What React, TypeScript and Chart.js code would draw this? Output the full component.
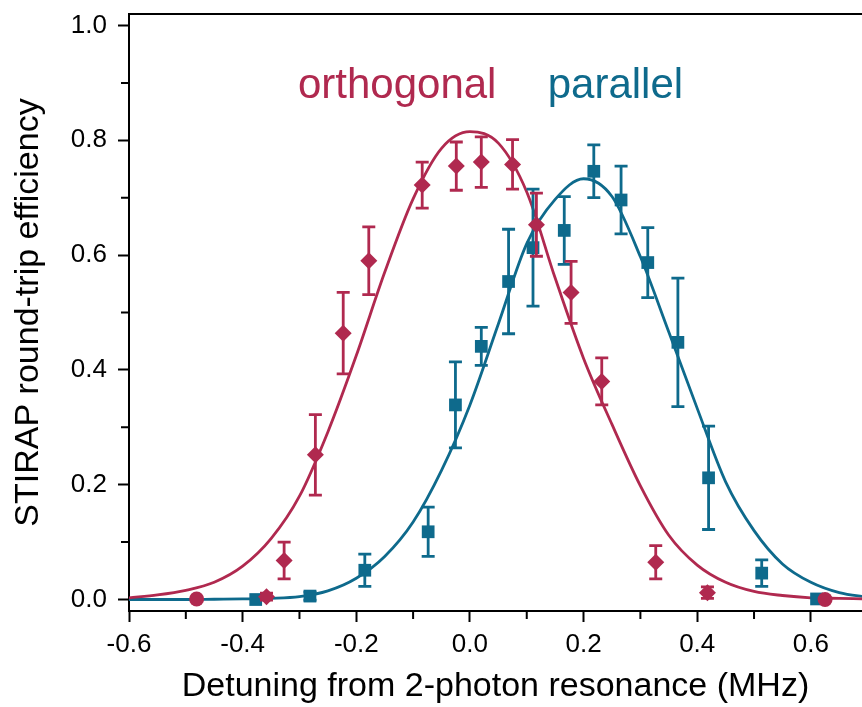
import React, { useEffect, useRef } from 'react';
import { Chart, registerables } from 'chart.js';

Chart.register(...registerables);

// ---- data ----
const orthoX = [-0.481, -0.358, -0.327, -0.272, -0.223, -0.178, -0.084, -0.024, 0.020, 0.075, 0.117, 0.178, 0.232, 0.327, 0.418, 0.625];
const orthoY = [0.001, 0.005, 0.068, 0.252, 0.464, 0.590, 0.722, 0.755, 0.762, 0.758, 0.653, 0.535, 0.380, 0.065, 0.012, 0.0];
const orthoErr = [0, 0.006, 0.032, 0.070, 0.071, 0.059, 0.040, 0.042, 0.044, 0.043, 0.055, 0.054, 0.041, 0.029, 0.010, 0];
const orthoStyle = ['circle', 'rectRot', 'rectRot', 'rectRot', 'rectRot', 'rectRot', 'rectRot', 'rectRot', 'rectRot', 'rectRot', 'rectRot', 'rectRot', 'rectRot', 'rectRot', 'rectRot', 'circle'];

const paraX = [-0.377, -0.2815, -0.185, -0.0735, -0.0255, 0.020, 0.068, 0.111, 0.166, 0.218, 0.266, 0.313, 0.366, 0.420, 0.5135, 0.610];
const paraY = [0.0, 0.006, 0.051, 0.118, 0.339, 0.441, 0.554, 0.613, 0.643, 0.746, 0.696, 0.587, 0.448, 0.212, 0.046, 0.001];
const paraErr = [0, 0.007, 0.028, 0.043, 0.075, 0.033, 0.091, 0.102, 0.059, 0.046, 0.059, 0.061, 0.112, 0.090, 0.023, 0];

const fitX = [-0.6, -0.55, -0.5, -0.45, -0.4, -0.35, -0.3, -0.25, -0.2, -0.15, -0.1, -0.05, 0.0, 0.05, 0.1, 0.15, 0.2, 0.25, 0.3, 0.35, 0.4, 0.45, 0.5, 0.55, 0.6, 0.65, 0.7];
const orthoFit = [0.003, 0.008, 0.016, 0.030, 0.058, 0.106, 0.180, 0.292, 0.425, 0.570, 0.698, 0.786, 0.815, 0.795, 0.710, 0.560, 0.420, 0.305, 0.198, 0.112, 0.060, 0.030, 0.014, 0.007, 0.003, 0.002, 0.001];
const paraFit = [0.0, 0.0, 0.0, 0.0005, 0.001, 0.002, 0.005, 0.015, 0.037, 0.075, 0.135, 0.225, 0.339, 0.480, 0.620, 0.697, 0.733, 0.702, 0.597, 0.466, 0.333, 0.205, 0.120, 0.062, 0.030, 0.012, 0.004];

const xMajorTicks = [-0.6, -0.4, -0.2, 0.0, 0.2, 0.4, 0.6];
const xMinorTicks = [-0.5, -0.3, -0.1, 0.1, 0.3, 0.5];
const yMajorTicks = [0.0, 0.2, 0.4, 0.6, 0.8, 1.0];
const yMinorTicks = [0.1, 0.3, 0.5, 0.7, 0.9];

const seriesLabels = ['orthogonal', 'parallel'];
const labelX = [-0.128, 0.256];
const labelY = [0.873, 0.873];

const xTitle = 'Detuning from 2-photon resonance (MHz)';
const yTitle = 'STIRAP round-trip efficiency';

const CRIMSON = '#B0294F';
const TEAL = '#0E6A8C';
const FONT = "'Liberation Sans', Arial, sans-serif";

const decorPlugin = {
  id: 'decor',
  beforeDatasetDraw(chart: any, args: any) {
    const ds = chart.data.datasets[args.index];
    const errs = ds.errors as number[] | undefined;
    if (!errs) return;
    const { ctx, scales } = chart;
    const xs = scales.x, ys = scales.y;
    ctx.save();
    ctx.strokeStyle = ds.errColor;
    ctx.lineWidth = 2.8;
    ctx.lineCap = 'butt';
    ds.data.forEach((p: any, i: number) => {
      const e = errs[i];
      if (!e) return;
      const px = xs.getPixelForValue(p.x);
      const y1 = ys.getPixelForValue(p.y + e);
      const y2 = ys.getPixelForValue(p.y - e);
      ctx.beginPath();
      ctx.moveTo(px, y1);
      ctx.lineTo(px, y2);
      ctx.moveTo(px - 6.5, y1);
      ctx.lineTo(px + 6.5, y1);
      ctx.moveTo(px - 6.5, y2);
      ctx.lineTo(px + 6.5, y2);
      ctx.stroke();
    });
    ctx.restore();
  },
  afterDraw(chart: any) {
    const { ctx, chartArea, scales } = chart;
    const xs = scales.x, ys = scales.y;
    ctx.save();
    ctx.strokeStyle = '#000';
    ctx.lineWidth = 2;
    // top frame line
    ctx.beginPath();
    ctx.moveTo(chartArea.left - 1, chartArea.top);
    ctx.lineTo(chartArea.right, chartArea.top);
    ctx.stroke();
    // minor ticks
    ctx.beginPath();
    xMinorTicks.forEach((v) => {
      const px = xs.getPixelForValue(v);
      ctx.moveTo(px, chartArea.bottom);
      ctx.lineTo(px, chartArea.bottom + 8);
    });
    yMinorTicks.forEach((v) => {
      const py = ys.getPixelForValue(v);
      ctx.moveTo(chartArea.left, py);
      ctx.lineTo(chartArea.left - 8, py);
    });
    ctx.stroke();
    // series labels
    ctx.font = `42px ${FONT}`;
    ctx.textAlign = 'center';
    ctx.textBaseline = 'alphabetic';
    const colors = [CRIMSON, TEAL];
    seriesLabels.forEach((t, i) => {
      ctx.fillStyle = colors[i];
      ctx.fillText(t, xs.getPixelForValue(labelX[i]), ys.getPixelForValue(labelY[i]));
    });
    ctx.restore();
  },
};

export default function App() {
  const ref = useRef<HTMLCanvasElement | null>(null);
  useEffect(() => {
    document.body.style.margin = '0';
    const canvas = ref.current;
    if (!canvas) return;
    const chart = new Chart(canvas, {
      type: 'scatter',
      data: {
        datasets: [
          {
            label: 'orthogonal',
            data: orthoX.map((x, i) => ({ x, y: orthoY[i] })),
            errors: orthoErr,
            errColor: CRIMSON,
            pointStyle: orthoStyle,
            pointRadius: orthoStyle.map((s) => (s === 'circle' ? 7.5 : 8.5)),
            backgroundColor: CRIMSON,
            borderColor: CRIMSON,
            borderWidth: 0,
            showLine: false,
            order: 0,
          } as any,
          {
            label: 'parallel',
            data: paraX.map((x, i) => ({ x, y: paraY[i] })),
            errors: paraErr,
            errColor: TEAL,
            pointStyle: 'rect',
            pointRadius: 9,
            backgroundColor: TEAL,
            borderColor: TEAL,
            borderWidth: 0,
            showLine: false,
            order: 1,
          } as any,
          {
            label: 'orthogonal fit',
            data: fitX.map((x, i) => ({ x, y: orthoFit[i] })),
            showLine: true,
            borderColor: CRIMSON,
            borderWidth: 2.8,
            pointRadius: 0,
            cubicInterpolationMode: 'monotone',
            fill: false,
            order: 2,
          } as any,
          {
            label: 'parallel fit',
            data: fitX.map((x, i) => ({ x, y: paraFit[i] })),
            showLine: true,
            borderColor: TEAL,
            borderWidth: 2.8,
            pointRadius: 0,
            cubicInterpolationMode: 'monotone',
            fill: false,
            order: 3,
          } as any,
        ],
      },
      options: {
        animation: false,
        responsive: false,
        events: [],
        layout: { autoPadding: false, padding: { top: 14, right: 0, left: 0, bottom: 0 } },
        plugins: { legend: { display: false }, tooltip: { enabled: false } },
        scales: {
          x: {
            type: 'linear',
            min: -0.6,
            max: 0.69,
            afterBuildTicks: (s: any) => { s.ticks = xMajorTicks.map((v) => ({ value: v })); },
            afterFit: (s: any) => { s.height = 96; s.paddingLeft = 0; s.paddingRight = 0; },
            grid: { display: true, drawOnChartArea: false, drawTicks: true, tickLength: 11, tickWidth: 2, tickColor: '#000' },
            border: { display: true, color: '#000', width: 2 },
            ticks: {
              color: '#000',
              padding: 7,
              maxRotation: 0,
              autoSkip: false,
              font: { family: FONT, size: 26 },
              callback: (v: any) => Number(v).toFixed(1),
            },
            title: { display: true, text: xTitle, color: '#000', font: { family: FONT, size: 34 }, padding: { top: 0, bottom: 0 } },
          },
          y: {
            type: 'linear',
            min: -0.02,
            max: 1.02,
            afterBuildTicks: (s: any) => { s.ticks = yMajorTicks.map((v) => ({ value: v })); },
            afterFit: (s: any) => { s.width = 129; s.paddingTop = 0; s.paddingBottom = 0; },
            grid: { display: true, drawOnChartArea: false, drawTicks: true, tickLength: 11, tickWidth: 2, tickColor: '#000' },
            border: { display: true, color: '#000', width: 2 },
            ticks: {
              color: '#000',
              padding: 11,
              autoSkip: false,
              font: { family: FONT, size: 26 },
              callback: (v: any) => Number(v).toFixed(1),
            },
            title: { display: true, text: yTitle, color: '#000', font: { family: FONT, size: 34 }, padding: { top: 8, bottom: 0 } },
          },
        },
      },
      plugins: [decorPlugin],
    } as any);
    return () => chart.destroy();
  }, []);
  return (
    <div style={{ width: 862, height: 707, background: '#fff' }}>
      <canvas ref={ref} width={862} height={707} style={{ display: 'block' }} />
    </div>
  );
}
